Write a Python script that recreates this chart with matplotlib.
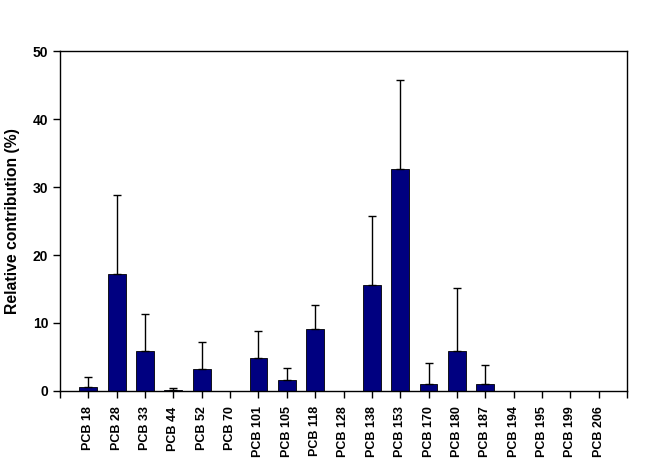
import matplotlib
matplotlib.use("Agg")
import matplotlib.pyplot as plt

categories = ["PCB 18", "PCB 28", "PCB 33", "PCB 44", "PCB 52", "PCB 70", "PCB 101",
              "PCB 105", "PCB 118", "PCB 128", "PCB 138", "PCB 153", "PCB 170",
              "PCB 180", "PCB 187", "PCB 194", "PCB 195", "PCB 199", "PCB 206"]
values = [0.6, 17.2, 5.9, 0.15, 3.2, 0, 4.9, 1.6, 9.1, 0, 15.6, 32.6, 1.0, 5.9, 1.0, 0, 0, 0, 0]
err_top = [2.1, 28.8, 11.3, 0.4, 7.2, 0, 8.8, 3.4, 12.7, 0, 25.7, 45.7, 4.1, 15.1, 3.8, 0, 0, 0, 0]
errors = [max(t - v, 0) for t, v in zip(err_top, values)]
yticks = [0, 10, 20, 30, 40, 50]

plt.rcParams['font.family'] = ['Liberation Sans', 'DejaVu Sans']

fig = plt.figure(figsize=(6.72, 4.71), dpi=100)
ax = fig.add_axes([60/672, 1-391/471, (627-60)/672, (391-51)/471])

pos = list(range(1, len(categories) + 1))
ax.bar(pos, values, width=0.63, color='#000080', edgecolor='black', linewidth=0.6, zorder=2)
sel = [i for i, e in enumerate(errors) if e > 0]
ax.errorbar([pos[i] for i in sel], [values[i] for i in sel], yerr=[[0]*len(sel), [errors[i] for i in sel]],
            fmt='none', ecolor='black', elinewidth=1.0, capsize=3, capthick=1.0, zorder=3)

ax.set_xlim(0, len(categories) + 1)
ax.set_ylim(0, 50)
ax.set_yticks(yticks)
ax.set_yticklabels([str(t) for t in yticks], fontsize=10, fontweight='bold')
ax.set_xticks([0] + pos + [len(categories) + 1])
ax.set_xticklabels([''] + categories + [''], rotation=90, fontsize=9, fontweight='bold')
ax.tick_params(axis='both', direction='out', length=5, width=1, color='black')
ax.tick_params(axis='x', pad=6)
for s in ax.spines.values():
    s.set_linewidth(1.0)
ax.set_ylabel("Relative contribution (%)", fontsize=11.3, fontweight='bold', labelpad=9)

fig.savefig("out.png", dpi=100, facecolor='white')
